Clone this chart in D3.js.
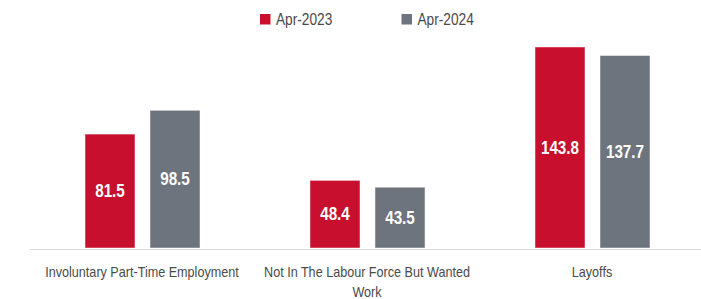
<!DOCTYPE html>
<html><head><meta charset="utf-8">
<script src="https://cdn.jsdelivr.net/npm/d3@7"></script>
<style>
html,body{margin:0;padding:0;background:#fff;}
svg{display:block;font-family:"Liberation Sans",Arial,sans-serif;}
</style></head>
<body>
<svg id="chart" width="701" height="299"></svg>
<script>
const categories = ["Involuntary Part-Time Employment", "Not In The Labour Force But Wanted Work", "Layoffs"];
const seriesNames = ["Apr-2023", "Apr-2024"];
const apr2023 = [81.5, 48.4, 143.8];
const apr2024 = [98.5, 43.5, 137.7];
const colors = ["#C8102E", "#6D747E"];

const svg = d3.select("#chart");
const baseY = 248;

// condense helper: shrink text horizontally by factor k (emulates a condensed face)
function condense(sel, k) {
  sel.each(function () {
    const w = this.getComputedTextLength();
    d3.select(this).attr("textLength", w * k).attr("lengthAdjust", "spacingAndGlyphs");
  });
}

const x = d3.scaleBand().domain(categories).range([30, 705]).paddingInner(0).paddingOuter(0);
const xSub = d3.scaleBand().domain(seriesNames).range([55, 170]).paddingInner(0.2308).paddingOuter(0);
const y = d3.scaleLinear().domain([0, 150]).range([baseY, 38.3]);

const data = categories.map((c, i) => ({cat: c, vals: [apr2023[i], apr2024[i]]}));

// axis line
const xAxis = d3.axisBottom(x).tickSize(0).tickFormat("");
const axG = svg.append("g").attr("transform", `translate(0,${baseY + 1})`).call(xAxis);
axG.select(".domain").attr("stroke", "#d9d9d9").attr("stroke-width", 1).attr("d", "M29.5,0.5H701");

// bars
const groups = svg.selectAll("g.grp").data(data).join("g").attr("class", "grp")
  .attr("transform", d => `translate(${x(d.cat)},0)`);

groups.selectAll("rect").data(d => d.vals.map((v, j) => ({v, s: seriesNames[j], j})))
  .join("rect")
  .attr("x", d => xSub(d.s))
  .attr("y", d => y(d.v))
  .attr("width", xSub.bandwidth())
  .attr("height", d => baseY - y(d.v))
  .attr("fill", d => colors[d.j])
  .attr("stroke", "#ffffff").attr("stroke-opacity", 0.6).attr("stroke-width", 0.8);

const vals = groups.selectAll("text.val").data(d => d.vals.map((v, j) => ({v, s: seriesNames[j], j})))
  .join("text").attr("class", "val")
  .attr("x", d => xSub(d.s) + xSub.bandwidth() / 2)
  .attr("y", d => (y(d.v) + baseY) / 2)
  .attr("dy", "0.36em")
  .attr("text-anchor", "middle")
  .attr("fill", "#fff")
  .attr("font-weight", "bold")
  .attr("font-size", "17.5px")
  .text(d => d.v.toFixed(1));
condense(vals, 0.87);

// category labels
const labelLines = {
  "Involuntary Part-Time Employment": ["Involuntary Part-Time Employment"],
  "Not In The Labour Force But Wanted Work": ["Not In The Labour Force But Wanted", "Work"],
  "Layoffs": ["Layoffs"]
};
categories.forEach(c => {
  const t = svg.append("text")
    .attr("text-anchor", "middle")
    .attr("fill", "#4a4a4a")
    .attr("font-size", "15px");
  labelLines[c].forEach((ln, k) => {
    t.append("tspan").attr("x", x(c) + x.bandwidth() / 2 - 0.5).attr("y", 277 + k * 20).text(ln);
  });
});
svg.selectAll("tspan").call(condense, 0.84);

// legend
const legX = [260, 401.5];
seriesNames.forEach((s, i) => {
  svg.append("rect").attr("x", legX[i]).attr("y", 14).attr("width", 10.5).attr("height", 10.5).attr("fill", colors[i]);
  svg.append("text").attr("class", "leg").attr("x", legX[i] + 16).attr("y", 19.5).attr("dy", "0.36em")
    .attr("fill", "#4a4a4a").attr("font-size", "16px").text(s);
});
svg.selectAll("text.leg").call(condense, 0.855);
</script>
</body></html>
